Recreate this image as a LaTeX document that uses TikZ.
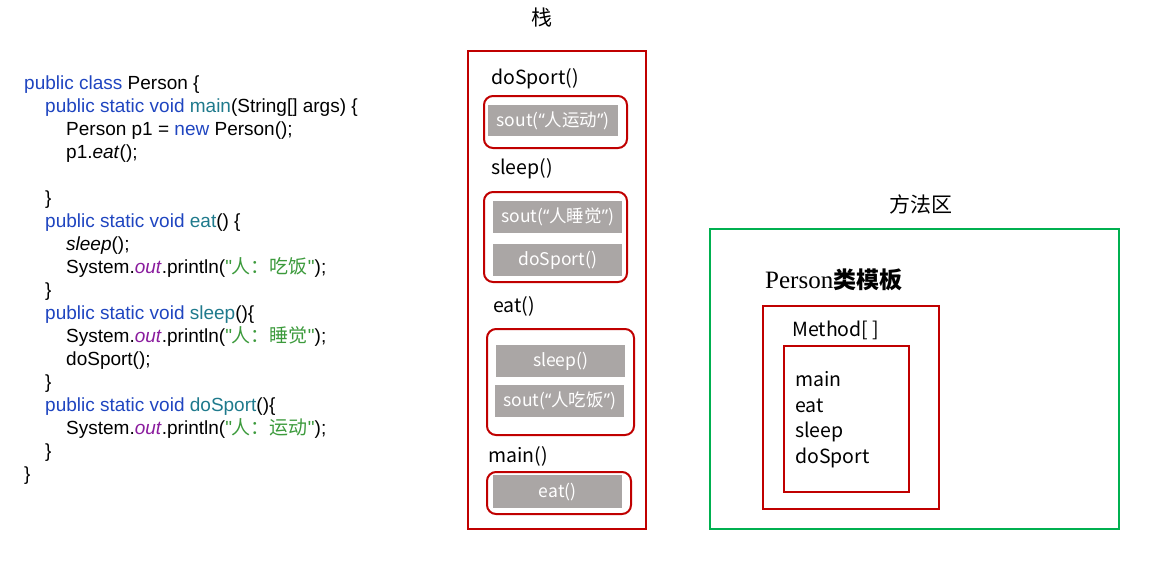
\documentclass[tikz,border=0pt]{standalone}
\usepackage{fontspec}
\usepackage{xcolor}
\usepackage{tikz}

\newfontfamily\codefont{Liberation Sans}
\newfontfamily\cjk{Noto Sans CJK SC}
\newfontfamily\latinq{Noto Sans}
\newfontfamily\serifpart{Liberation Serif}

\definecolor{kwblue}{HTML}{1F45C0}
\definecolor{fnteal}{HTML}{1F7A8C}
\definecolor{outpurple}{HTML}{8A1C9E}
\definecolor{strgreen}{HTML}{3C9A3C}
\definecolor{framered}{HTML}{C00000}
\definecolor{areagreen}{HTML}{00B050}
\definecolor{stmtgray}{HTML}{AAA6A5}

\newcommand{\kw}[1]{\textcolor{kwblue}{#1}}
\newcommand{\fn}[1]{\textcolor{fnteal}{#1}}
\newcommand{\outv}{\textcolor{outpurple}{\textit{out}}}
\newcommand{\jstr}[1]{\textcolor{strgreen}{"{\cjk #1}"}}
\newcommand{\sout}[1]{sout({\latinq “}#1{\latinq ”})}

\begin{document}
\begin{tikzpicture}[x=1pt,y=-1pt,
    code/.style={anchor=base west,inner sep=0pt,font=\codefont\fontsize{19}{22}\selectfont},
    lbl/.style={anchor=base west,inner sep=0pt,font=\cjk\fontsize{19.5}{22}\selectfont},
    title/.style={inner sep=0pt,font=\cjk\fontsize{21}{24}\selectfont},
    frame/.style={draw=framered,line width=2pt,inner sep=0pt,anchor=north west},
    callbox/.style={frame,rounded corners=9pt},
    stmt/.style={fill=stmtgray,text=white,inner sep=0pt,anchor=north west,minimum width=129pt,minimum height=32pt,font=\cjk\fontsize{17.5}{20}\selectfont}]
  \useasboundingbox (0,0) rectangle (1157,560);
  % source code
  \node[code] (l1) at (24,89) {\kw{public class} Person \{};
  \node[code] (l2) at (45,112) {\kw{public static void} \fn{main}(String[] args) \{};
  \node[code] (l3) at (66,135) {Person p1 = \kw{new} Person();};
  \node[code] (l4) at (66,158) {p1.\textit{eat}();};
  \node[code] (l5) at (45,204) {\}};
  \node[code] (l6) at (45,227) {\kw{public static void} \fn{eat}() \{};
  \node[code] (l7) at (66,250) {\textit{sleep}();};
  \node[code] (l8) at (66,273) {System.\outv.println(\jstr{人：吃饭});};
  \node[code] (l9) at (45,296) {\}};
  \node[code] (l10) at (45,319) {\kw{public static void} \fn{sleep}()\{};
  \node[code] (l11) at (66,342) {System.\outv.println(\jstr{人：睡觉});};
  \node[code] (l12) at (66,365) {doSport();};
  \node[code] (l13) at (45,388) {\}};
  \node[code] (l14) at (45,411) {\kw{public static void} \fn{doSport}()\{};
  \node[code] (l15) at (66,434) {System.\outv.println(\jstr{人：运动});};
  \node[code] (l16) at (45,457) {\}};
  \node[code] (l17) at (24,480) {\}};
  % stack
  \node[title] (stacktitle) at (542,18) {栈};
  \node[frame,minimum width=178pt,minimum height=478pt] (stack) at (467,50) {};
  \node[lbl] (fdosport) at (491,84) {doSport()};
  \node[callbox,minimum width=143pt,minimum height=52pt] (bdosport) at (483,95) {};
  \node[stmt,minimum width=130pt,minimum height=31pt] (s1) at (488,105) {\sout{人运动}};
  \node[lbl] (fsleep) at (491,174) {sleep()};
  \node[callbox,minimum width=143pt,minimum height=90pt] (bsleep) at (483,191) {};
  \node[stmt] (s2) at (493,201) {\sout{人睡觉}};
  \node[stmt] (s3) at (493,244) {doSport()};
  \node[lbl] (feat) at (493,312) {eat()};
  \node[callbox,minimum width=147pt,minimum height=106pt] (beat) at (486,328) {};
  \node[stmt] (s4) at (496,345) {sleep()};
  \node[stmt] (s5) at (495,385) {\sout{人吃饭}};
  \node[lbl] (fmain) at (488,462) {main()};
  \node[callbox,minimum width=144pt,minimum height=42pt] (bmain) at (486,471) {};
  \node[stmt,minimum height=33pt] (s6) at (493,475) {eat()};
  % method area
  \node[title] (areatitle) at (921,204) {方法区};
  \node[draw=areagreen,line width=2pt,inner sep=0pt,anchor=north west,minimum width=409pt,minimum height=300pt] (area) at (709,228) {};
  \node[anchor=base west,inner sep=0pt,font=\fontsize{23}{26}\selectfont] (tmpl) at (765,288) {{\serifpart\fontsize{25}{26}\selectfont Person}{\cjk\bfseries 类模板}};
  \node[frame,minimum width=176pt,minimum height=203pt] (mframe) at (762,305) {};
  \node[lbl] (mlabel) at (792,336) {Method[ ]};
  \node[frame,minimum width=125pt,minimum height=146pt] (mlist) at (783,345) {};
  \node[lbl] (m1) at (795,386) {main};
  \node[lbl] (m2) at (795,412) {eat};
  \node[lbl] (m3) at (795,437) {sleep};
  \node[lbl] (m4) at (795,463) {doSport};
\end{tikzpicture}
\end{document}
